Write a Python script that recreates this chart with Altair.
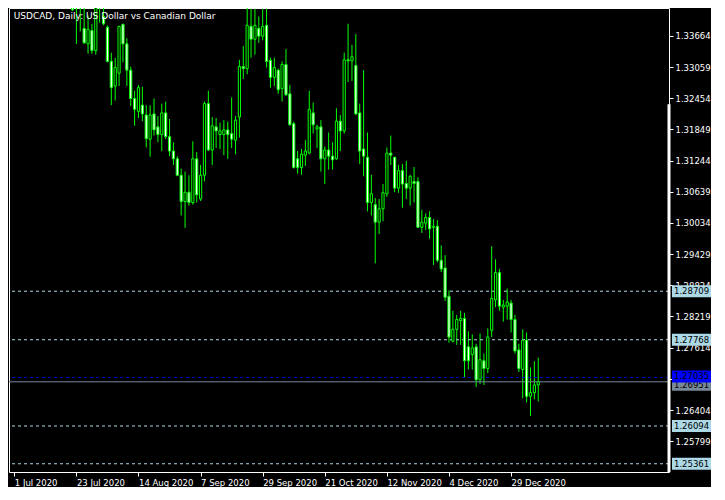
import json
import altair as alt
import pandas as pd

# ---- data ----
opens = [1.3585, 1.3570, 1.3550, 1.3560, 1.3525, 1.3580, 1.3560, 1.3610, 1.3580, 1.3605,
         1.3590, 1.3535, 1.3575, 1.3565, 1.3555, 1.3480, 1.3428, 1.3440, 1.3381, 1.3351,
         1.3377, 1.3338, 1.3436, 1.3404, 1.3383, 1.3317, 1.3269, 1.3294, 1.3389, 1.3351,
         1.3300, 1.3245, 1.3220, 1.3232, 1.3213, 1.3166, 1.3215, 1.3190, 1.3175, 1.3217,
         1.3171, 1.3143, 1.3128, 1.3096, 1.3045, 1.3063, 1.3043, 1.3128, 1.3050, 1.3096,
         1.3235, 1.3145, 1.3190, 1.3175, 1.3175, 1.3184, 1.3177, 1.3164, 1.3209, 1.3307,
         1.3303, 1.3385, 1.3360, 1.3381, 1.3366, 1.3387, 1.3319, 1.3286, 1.3300, 1.3264,
         1.3311, 1.3254, 1.3196, 1.3128, 1.3111, 1.3135, 1.3139, 1.3217, 1.3186, 1.3190,
         1.3128, 1.3145, 1.3133, 1.3128, 1.3201, 1.3182, 1.3320, 1.3318, 1.3309, 1.3217,
         1.3147, 1.3131, 1.3043, 1.3039, 1.3005, 1.3031, 1.3060, 1.3139, 1.3131, 1.3071,
         1.3105, 1.3080, 1.3071, 1.3084, 1.3084, 1.2995, 1.3003, 1.3014, 1.2995, 1.2997,
         1.2931, 1.2916, 1.2861, 1.2774, 1.2797, 1.2814, 1.2818, 1.2763, 1.2748, 1.2763,
         1.2699, 1.2736, 1.2721, 1.2795, 1.2854, 1.2907, 1.2840, 1.2842, 1.2848, 1.2816,
         1.2757, 1.2719, 1.2776, 1.2667, 1.2674, 1.2689]
highs = [1.3620, 1.3590, 1.3575, 1.3570, 1.3595, 1.3600, 1.3620, 1.3625, 1.3615, 1.3620,
         1.3600, 1.3590, 1.3585, 1.3580, 1.3565, 1.3495, 1.3455, 1.3458, 1.3430, 1.3406,
         1.3390, 1.3440, 1.3450, 1.3424, 1.3387, 1.3334, 1.3324, 1.3386, 1.3390, 1.3362,
         1.3307, 1.3260, 1.3271, 1.3268, 1.3232, 1.3232, 1.3245, 1.3211, 1.3235, 1.3239,
         1.3205, 1.3160, 1.3133, 1.3109, 1.3103, 1.3096, 1.3162, 1.3141, 1.3116, 1.3239,
         1.3260, 1.3209, 1.3207, 1.3198, 1.3203, 1.3200, 1.3247, 1.3211, 1.3320, 1.3347,
         1.3428, 1.3419, 1.3419, 1.3404, 1.3419, 1.3419, 1.3324, 1.3324, 1.3303, 1.3317,
         1.3341, 1.3271, 1.3200, 1.3143, 1.3147, 1.3164, 1.3260, 1.3237, 1.3194, 1.3203,
         1.3152, 1.3179, 1.3160, 1.3226, 1.3213, 1.3334, 1.3390, 1.3349, 1.3370, 1.3235,
         1.3300, 1.3179, 1.3097, 1.3052, 1.3050, 1.3079, 1.3150, 1.3173, 1.3131, 1.3116,
         1.3118, 1.3124, 1.3097, 1.3112, 1.3092, 1.3029, 1.3022, 1.3026, 1.3011, 1.3009,
         1.2960, 1.2941, 1.2873, 1.2833, 1.2825, 1.2833, 1.2829, 1.2793, 1.2787, 1.2769,
         1.2789, 1.2750, 1.2799, 1.2958, 1.2933, 1.2914, 1.2854, 1.2876, 1.2854, 1.2825,
         1.2769, 1.2797, 1.2791, 1.2723, 1.2735, 1.2742]
lows = [1.3545, 1.3535, 1.3530, 1.3500, 1.3510, 1.3545, 1.3550, 1.3565, 1.3560, 1.3575,
        1.3520, 1.3525, 1.3550, 1.3530, 1.3470, 1.3415, 1.3351, 1.3375, 1.3351, 1.3332,
        1.3332, 1.3330, 1.3392, 1.3387, 1.3315, 1.3232, 1.3241, 1.3269, 1.3315, 1.3269,
        1.3230, 1.3192, 1.3207, 1.3201, 1.3150, 1.3132, 1.3173, 1.3160, 1.3143, 1.3166,
        1.3133, 1.3116, 1.3094, 1.3018, 1.2994, 1.3037, 1.3039, 1.3043, 1.3046, 1.3084,
        1.3143, 1.3116, 1.3149, 1.3147, 1.3135, 1.3128, 1.3149, 1.3137, 1.3169, 1.3283,
        1.3292, 1.3324, 1.3330, 1.3353, 1.3358, 1.3305, 1.3266, 1.3269, 1.3254, 1.3239,
        1.3250, 1.3192, 1.3109, 1.3099, 1.3097, 1.3114, 1.3137, 1.3177, 1.3149, 1.3103,
        1.3079, 1.3107, 1.3107, 1.3126, 1.3143, 1.3177, 1.3277, 1.3279, 1.3213, 1.3118,
        1.3094, 1.3026, 1.3018, 1.2925, 1.2982, 1.3007, 1.3054, 1.3116, 1.3063, 1.3062,
        1.3033, 1.3050, 1.3037, 1.3043, 1.2994, 1.2984, 1.2990, 1.2973, 1.2922, 1.2927,
        1.2908, 1.2852, 1.2771, 1.2772, 1.2767, 1.2767, 1.2704, 1.2719, 1.2719, 1.2685,
        1.2691, 1.2689, 1.2712, 1.2782, 1.2840, 1.2833, 1.2812, 1.2816, 1.2791, 1.2750,
        1.2714, 1.2663, 1.2655, 1.2629, 1.2661, 1.2657]
closes = [1.3570, 1.3550, 1.3560, 1.3525, 1.3580, 1.3560, 1.3610, 1.3580, 1.3605, 1.3590,
          1.3535, 1.3575, 1.3565, 1.3555, 1.3480, 1.3417, 1.3440, 1.3432, 1.3353, 1.3379,
          1.3338, 1.3426, 1.3428, 1.3390, 1.3317, 1.3266, 1.3305, 1.3385, 1.3351, 1.3300,
          1.3245, 1.3224, 1.3266, 1.3215, 1.3167, 1.3213, 1.3184, 1.3175, 1.3217, 1.3171,
          1.3143, 1.3128, 1.3096, 1.3045, 1.3063, 1.3043, 1.3128, 1.3058, 1.3096, 1.3235,
          1.3145, 1.3192, 1.3182, 1.3182, 1.3184, 1.3175, 1.3166, 1.3203, 1.3307, 1.3303,
          1.3387, 1.3360, 1.3387, 1.3366, 1.3385, 1.3317, 1.3286, 1.3305, 1.3262, 1.3311,
          1.3252, 1.3194, 1.3111, 1.3111, 1.3137, 1.3143, 1.3224, 1.3194, 1.3190, 1.3128,
          1.3145, 1.3133, 1.3126, 1.3201, 1.3182, 1.3320, 1.3318, 1.3326, 1.3215, 1.3143,
          1.3133, 1.3043, 1.3060, 1.3005, 1.3031, 1.3062, 1.3139, 1.3135, 1.3071, 1.3105,
          1.3079, 1.3071, 1.3094, 1.3080, 1.2995, 1.3005, 1.3014, 1.2992, 1.2997, 1.2931,
          1.2914, 1.2859, 1.2782, 1.2797, 1.2816, 1.2818, 1.2736, 1.2736, 1.2761, 1.2699,
          1.2738, 1.2721, 1.2782, 1.2857, 1.2907, 1.2842, 1.2844, 1.2850, 1.2816, 1.2755,
          1.2721, 1.2776, 1.2667, 1.2674, 1.2689, 1.26951]

date_labels = ["1 Jul 2020", "23 Jul 2020", "14 Aug 2020", "7 Sep 2020", "29 Sep 2020",
               "21 Oct 2020", "12 Nov 2020", "4 Dec 2020", "29 Dec 2020"]
date_positions = [0, 16, 32, 48, 64, 80, 96, 112, 128]
price_ticks = [1.33664, 1.33059, 1.32454, 1.31849, 1.31244, 1.30639, 1.30034,
               1.29429, 1.28824, 1.28219, 1.27614, 1.27009, 1.26404, 1.25799]
level_prices = [1.28709, 1.27768, 1.26094, 1.25361]
ask_price = [1.27035]
bid_price = [1.26951]
marker_price = [1.32337]
title_text = "USDCAD, Daily:  US Dollar vs Canadian Dollar"

W, H = 660, 464
FONT = "DejaVu Sans"
FS = 8.5
GREEN = "#00FF00"
LEVEL = "#ADD8E6"

df = pd.DataFrame({"i": list(range(len(opens))), "open": opens, "high": highs,
                   "low": lows, "close": closes})

xs = alt.Scale(domain=[-0.075, 167.4], nice=False, zero=False)
ys = alt.Scale(domain=[1.25201, 1.34206], nice=False, zero=False)

label_expr = json.dumps(date_labels) + "[indexof(" + json.dumps(date_positions) + ", datum.value)]"

x_axis = alt.Axis(values=date_positions, labelExpr=label_expr, orient="bottom", domain=False,
                  grid=False, tickSize=4, tickColor="white", labelColor="white",
                  labelAlign="left", labelPadding=2, labelOverlap=False, labelBound=False,
                  labelFlush=False, title=None, labelFont=FONT, labelFontSize=FS)
y_axis = alt.Axis(values=price_ticks, orient="right", format=".5f", domain=False, grid=False,
                  tickSize=4, tickColor="white", labelColor="white", labelPadding=2,
                  labelOverlap=False, labelBound=False, labelFlush=False, title=None,
                  labelFont=FONT, labelFontSize=FS)


def X(field):
    return alt.X(field, scale=xs, axis=x_axis)


def Y(field):
    return alt.Y(field, scale=ys, axis=y_axis)


wicks = alt.Chart(df).mark_rule(color=GREEN, strokeWidth=1, clip=True).encode(
    x=X("i:Q"), y=Y("low:Q"), y2="high:Q",
)

bodies = alt.Chart(df).mark_bar(size=2.2, stroke=GREEN, strokeWidth=1, clip=True).encode(
    x=X("i:Q"), y=Y("open:Q"), y2="close:Q",
    fill=alt.condition("datum.close >= datum.open", alt.value("black"), alt.value("white")),
)

lvl_df = pd.DataFrame({"price": level_prices, "label": [f"{p:.5f}" for p in level_prices]})
ask_df = pd.DataFrame({"price": ask_price, "label": [f"{p:.5f}" for p in ask_price]})
bid_df = pd.DataFrame({"price": bid_price, "label": [f"{p:.5f}" for p in bid_price]})

level_rules = alt.Chart(lvl_df).mark_rule(color=LEVEL, strokeDash=[3, 3], strokeWidth=1).encode(
    y=Y("price:Q"))
ask_rule = alt.Chart(ask_df).mark_rule(color="#0000CD", strokeDash=[3, 3], strokeWidth=1).encode(
    y=Y("price:Q"))
bid_rule = alt.Chart(bid_df).mark_rule(color="#778899", strokeWidth=1).encode(
    y=Y("price:Q"))


def price_box(data, bg, fg, shift=0):
    rect = alt.Chart(data).mark_rect(color=bg, yOffset=-6 + shift, y2Offset=6 + shift).encode(
        x=alt.value(W + 3), x2=alt.value(W + 42),
        y=Y("price:Q"), y2="price:Q")
    txt = alt.Chart(data).mark_text(align="left", baseline="middle", color=fg, font=FONT,
                                    fontSize=FS, dy=shift).encode(
        x=alt.value(W + 5), y=Y("price:Q"), text="label:N")
    return rect + txt


marker = alt.Chart(pd.DataFrame({"p": marker_price})).mark_rule(color="white", strokeWidth=3).encode(
    x=alt.value(W), y=Y("p:Q"), y2=alt.value(H))

title = alt.Chart(pd.DataFrame({"t": [title_text]})).mark_text(
    align="left", baseline="alphabetic", color="white", font=FONT, fontSize=9).encode(
    x=alt.value(4.7), y=alt.value(11), text="t:N")

chart = alt.layer(
    wicks, level_rules, ask_rule, bid_rule, bodies, marker, title,
    price_box(lvl_df, LEVEL, "black"),
    price_box(bid_df, "#778899", "black", shift=3),
    price_box(ask_df, "#0000FF", "black", shift=-1),
).properties(
    width=W, height=H, background="black",
    padding={"left": 0, "top": 0, "right": 0, "bottom": 0},
).configure_view(stroke="white", strokeWidth=1)

chart.save("out.html", embed_options={"renderer": "svg", "actions": False})
